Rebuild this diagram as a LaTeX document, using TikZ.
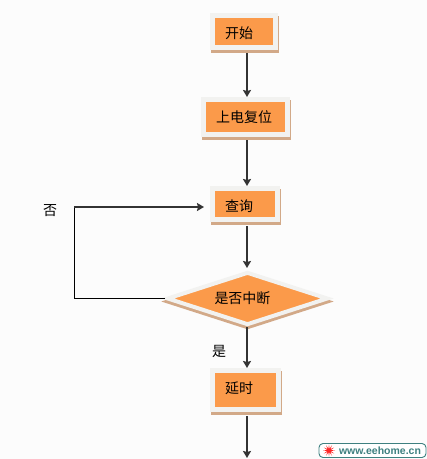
\documentclass[tikz,border=0pt]{standalone}
\usepackage{fontspec}
\setmainfont{Noto Sans CJK SC}
\newfontfamily\markfont{Liberation Sans}
\usetikzlibrary{
    shapes.geometric, shadows,
    arrows.meta, positioning
}
\definecolor{pagebg}{HTML}{FCFCFC}
\definecolor{boxfill}{HTML}{FB9A4A}
\definecolor{boxrim}{HTML}{F2F2F0}
\definecolor{boxshade}{HTML}{D2A988}
\definecolor{buscol}{HTML}{333333}
\definecolor{markcol}{HTML}{3E8080}
\newcommand{\nudge}[2]{\raisebox{#1}[11pt][0.4pt]{#2}}
\tikzset{
  blk/.style={rectangle, draw=boxrim, fill=boxfill, line width=5pt,
              general shadow={shadow xshift=1pt, shadow yshift=-3pt,
                              fill=boxshade, draw=boxshade},
              inner xsep=12.5pt, inner ysep=0pt, align=left,
              font=\fontsize{14}{16}\selectfont},
  dec/.style={diamond, draw=boxrim, fill=boxfill, line width=4pt, aspect=3,
              general shadow={shadow yshift=-3pt, fill=boxshade, draw=boxshade},
              minimum width=161pt, minimum height=53pt, inner sep=0pt,
              font=\fontsize{14}{16}\selectfont},
  bus/.style={-{Stealth[length=7pt,width=8pt,inset=1pt]}, line width=2pt, draw=buscol},
  lbl/.style={font=\fontsize{14}{16}\selectfont},
}
\begin{document}
\begin{tikzpicture}[x=1pt, y=-1pt]

  \fill[pagebg] (0,0) rectangle (427,459);
  \useasboundingbox (0,0) rectangle (427,459);

  \node[blk, text width=38pt, minimum height=32pt] (start) at (244,31.5)
    {\nudge{-2pt}{开始}};

  \node[blk, text width=59pt, minimum height=35pt, below=47pt of start, xshift=1.5pt] (power)
    {上电复位};

  \node[blk, text width=40pt, minimum height=31pt, below=49pt of power, xshift=-0.5pt] (query)
    {\nudge{-2pt}{查询}};

  \node[dec, below=48pt of query, xshift=2.5pt] (decide)
    {\hspace*{-10pt}是否中断};

  \node[blk, text width=41pt, minimum height=39pt, below=41pt of decide, xshift=-2pt] (delay)
    {\nudge{2pt}{延时}};

  \coordinate (axis) at (247,0);
  \coordinate (loopup) at (74,207);
  \coordinate (tail) at (247,458);

  \node[lbl] (no) at (50,211) {否};
  \node[lbl] (yes) at (219,351) {是};

  \draw[bus, shorten <=3pt] (start.south -| axis) -- (power.north -| axis);
  \draw[bus, shorten <=3pt] (power.south -| axis) -- (query.north -| axis);
  \draw[bus, shorten <=4pt, shorten >=2pt] (query.south -| axis) -- (decide.north -| axis);
  \draw[bus] (decide.south -| axis) -- (delay.north -| axis);
  \draw[bus, shorten <=4pt] (delay.south -| axis) -- (tail);

  \draw[line width=1pt] (decide.west) -| (loopup);
  \draw[bus, shorten >=6pt] (loopup) -- (loopup -| query.west);

  \node[rectangle, draw=markcol, fill=white, rounded corners=4pt, line width=0.9pt,
        minimum width=107pt, minimum height=14pt, inner sep=0pt, inner xsep=0pt,
        text=markcol, font=\markfont\bfseries\fontsize{10.5}{12}\selectfont,
        align=right] (mark) at (372.5,450.5) {\hspace*{15pt}www.eehome.cn};
  \node[star, star points=12, star point ratio=3, fill=red!85!white, inner sep=0pt,
        minimum size=12pt] (burst) at (329,450.5) {};

\end{tikzpicture}
\end{document}
